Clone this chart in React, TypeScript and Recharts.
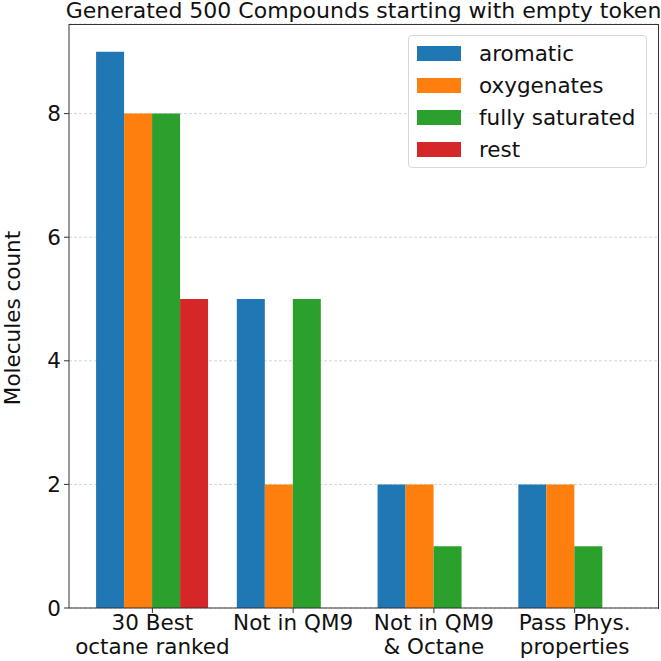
import React from 'react';
import { BarChart, Bar, XAxis, YAxis, CartesianGrid } from 'recharts';

// Counts per compound class for each filtering stage
const stages = ['30 Best\noctane ranked', 'Not in QM9', 'Not in QM9\n& Octane', 'Pass Phys.\nproperties'];
const aromatic = [9, 5, 2, 2];
const oxygenates = [8, 2, 2, 2];
const fullySaturated = [8, 5, 1, 1];
const rest = [5, 0, 0, 0];
const yTicks = [0, 2, 4, 6, 8];

const SERIES = [
  { key: 'aromatic', color: '#1f77b4' },
  { key: 'oxygenates', color: '#ff7f0e' },
  { key: 'fully saturated', color: '#2ca02c' },
  { key: 'rest', color: '#d62728' },
];

const data = stages.map((stage, i) => ({
  stage,
  aromatic: aromatic[i],
  oxygenates: oxygenates[i],
  'fully saturated': fullySaturated[i],
  rest: rest[i],
}));

const FONT = '"DejaVu Sans", sans-serif';
const AXIS = '#333';

function StageTick(props: any) {
  const { x, y, payload } = props;
  const lines = String(payload.value).split('\n');
  return (
    <text x={x} y={y} textAnchor="middle" fontFamily={FONT} fontSize={21.5} fill="#111">
      {lines.map((line, i) => (
        <tspan key={i} x={x} dy={i === 0 ? 17 : 24}>
          {line}
        </tspan>
      ))}
    </text>
  );
}

export default function App() {
  return (
    <div style={{ position: 'absolute', left: 0, top: 0, width: 661, height: 661, background: '#fff', fontFamily: FONT }}>
      <div
        style={{
          position: 'absolute',
          left: 0,
          width: 727,
          top: 0,
          textAlign: 'center',
          fontSize: 22,
          lineHeight: '22px',
          whiteSpace: 'nowrap',
          color: '#111',
        }}
      >
        Generated 500 Compounds starting with empty token
      </div>
      <div
        style={{
          position: 'absolute',
          left: 12,
          top: 318,
          transform: 'translate(-50%, -50%) rotate(-90deg)',
          fontSize: 21.5,
          whiteSpace: 'nowrap',
          color: '#111',
        }}
      >
        Molecules count
      </div>
      <BarChart
        width={661}
        height={661}
        data={data}
        margin={{ top: 24, right: 3, bottom: 0, left: 29 }}
        barCategoryGap="10%"
        barGap={0}
      >
        <CartesianGrid vertical={false} stroke="#d4d4d4" strokeDasharray="3 2" />
        <XAxis
          dataKey="stage"
          height={53}
          padding={{ left: 13, right: 13 }}
          stroke={AXIS}
          tickSize={5}
          tickMargin={0}
          tick={<StageTick />}
          interval={0}
        />
        <YAxis
          width={40}
          domain={[0, 9.45]}
          ticks={yTicks}
          stroke={AXIS}
          tickSize={5}
          tickMargin={3}
          tick={{ fontFamily: FONT, fontSize: 21.5, fill: '#111' }}
        />
        {SERIES.map((s) => (
          <Bar key={s.key} dataKey={s.key} fill={s.color} isAnimationActive={false} />
        ))}
      </BarChart>
      {/* axes frame (top and right spines) */}
      <div
        style={{
          position: 'absolute',
          left: 69,
          top: 24,
          width: 590,
          height: 585,
          boxSizing: 'border-box',
          borderTop: `1px solid ${AXIS}`,
          borderRight: `1px solid ${AXIS}`,
          pointerEvents: 'none',
        }}
      />
      <div
        style={{
          position: 'absolute',
          left: 408,
          top: 35,
          width: 239,
          height: 133,
          boxSizing: 'border-box',
          border: '1px solid #d8d8d8',
          borderRadius: 4,
          background: 'rgba(255,255,255,0.85)',
        }}
      >
        {SERIES.map((s, i) => (
          <div
            key={s.key}
            style={{ position: 'absolute', left: 8, top: 4 + i * 32.3, height: 26, display: 'flex', alignItems: 'center' }}
          >
            <span style={{ display: 'inline-block', width: 44, height: 15, background: s.color }} />
            <span style={{ marginLeft: 18, fontSize: 21.5, color: '#111', whiteSpace: 'nowrap' }}>{s.key}</span>
          </div>
        ))}
      </div>
    </div>
  );
}
